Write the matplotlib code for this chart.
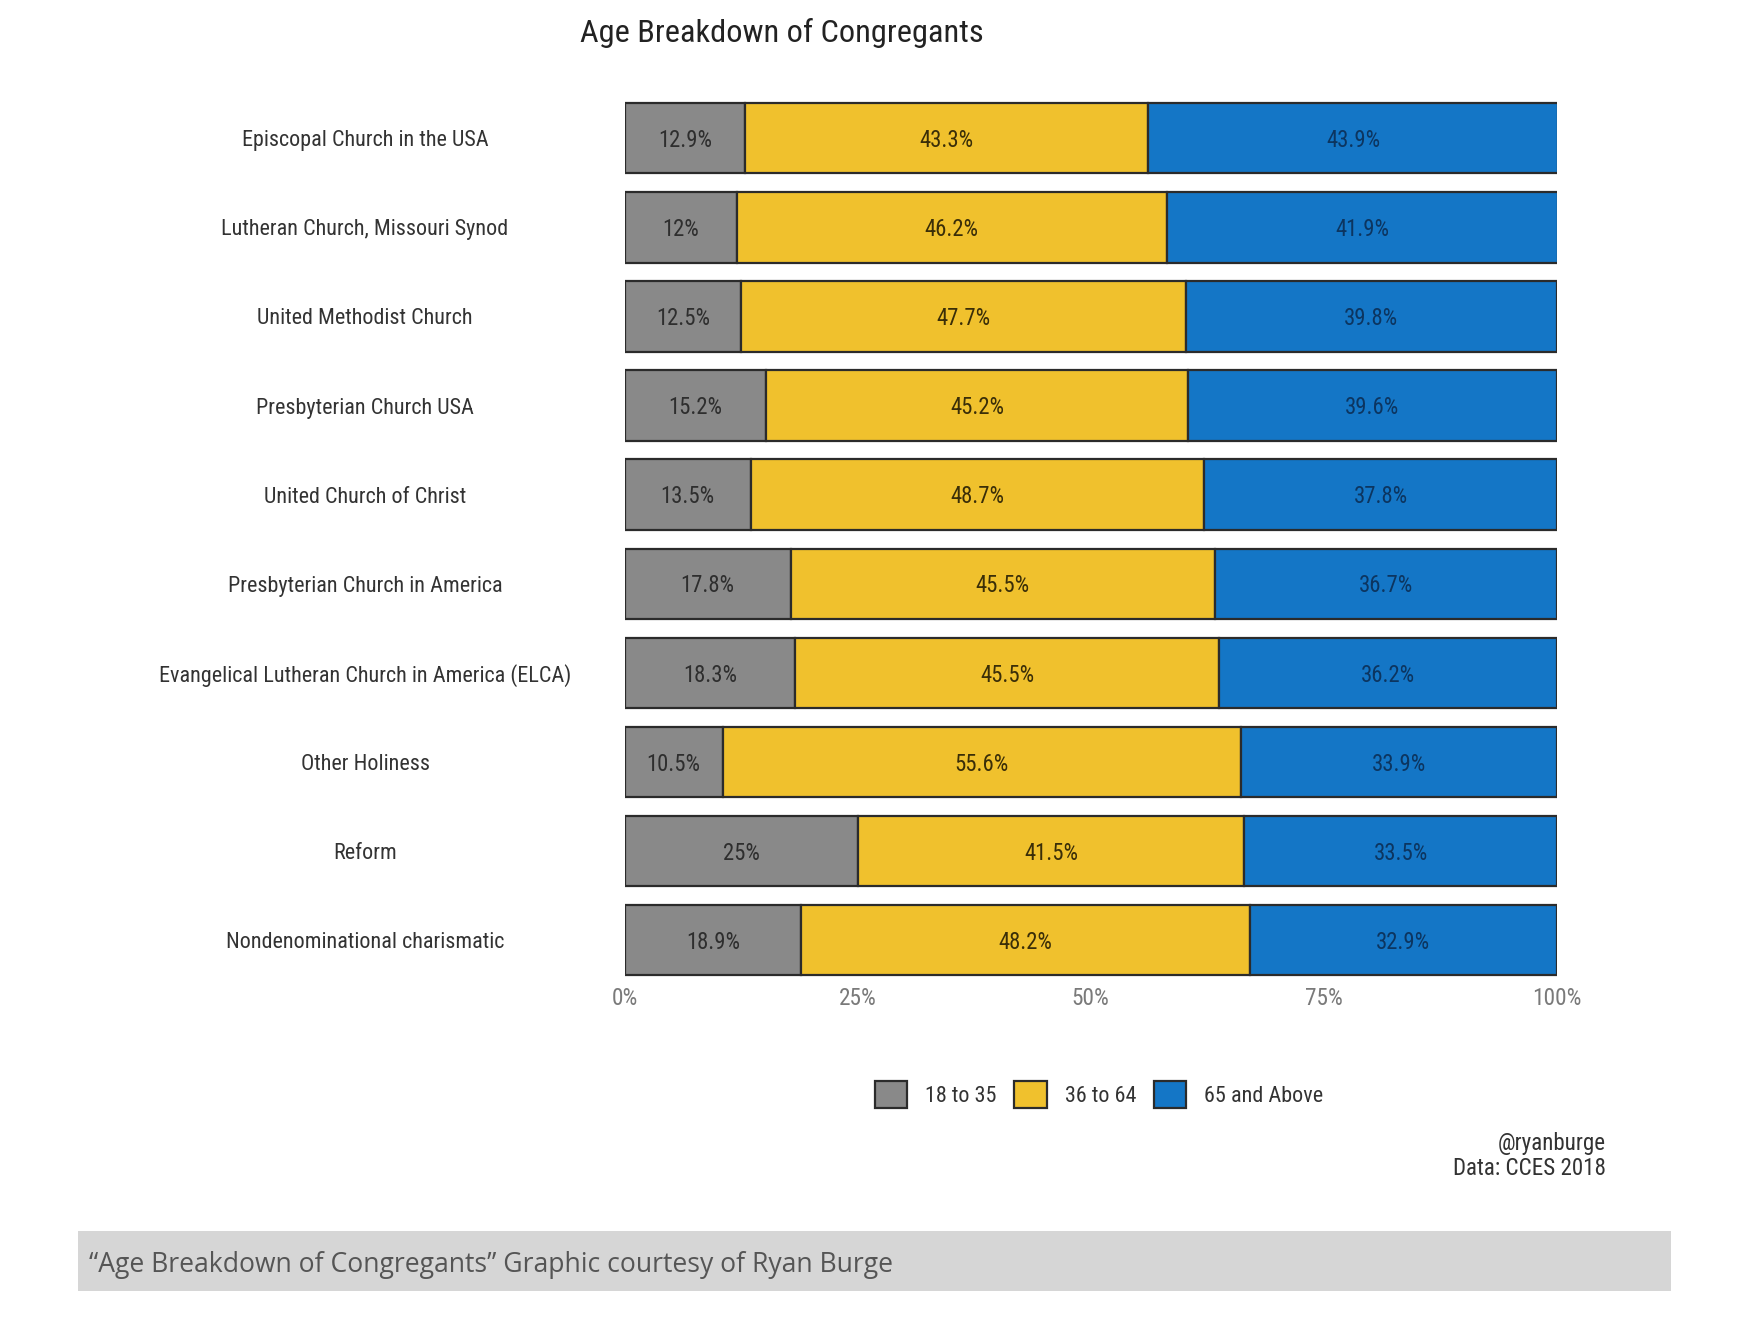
import matplotlib
matplotlib.use('Agg')
import matplotlib.pyplot as plt
from matplotlib import font_manager
from matplotlib.patches import Rectangle, Patch

# the original uses a narrow font; take one if there is any, else Roboto
installed = {f.name for f in font_manager.fontManager.ttflist}
narrow = [n for n in ['Roboto Condensed', 'Liberation Sans Narrow', 'Open Sans Condensed']
          if n in installed]
if narrow:
    FONT = narrow[0]
    K = 1.12
else:
    FONT = 'Roboto'
    K = 1.0
plt.rcParams['font.family'] = [FONT, 'DejaVu Sans']

# data
churches = [
    'Episcopal Church in the USA',
    'Lutheran Church, Missouri Synod',
    'United Methodist Church',
    'Presbyterian Church USA',
    'United Church of Christ',
    'Presbyterian Church in America',
    'Evangelical Lutheran Church in America (ELCA)',
    'Other Holiness',
    'Reform',
    'Nondenominational charismatic',
]
age_18_35 = [12.9, 12.0, 12.5, 15.2, 13.5, 17.8, 18.3, 10.5, 25.0, 18.9]
age_36_64 = [43.3, 46.2, 47.7, 45.2, 48.7, 45.5, 45.5, 55.6, 41.5, 48.2]
age_65_up = [43.9, 41.9, 39.8, 39.6, 37.8, 36.7, 36.2, 33.9, 33.5, 32.9]
series_names = ['18 to 35', '36 to 64', '65 and Above']
tick_vals = [0, 25, 50, 75, 100]
tick_labels = ['0%', '25%', '50%', '75%', '100%']

colors = ['#898989', '#f0c12d', '#1476c6']
text_colors = ['#2e2e2e', '#3a2e08', '#0c3560']

fig = plt.figure(figsize=(17.5, 13.24), dpi=100)
ax = fig.add_axes([0.357, 0.2616, 0.5325, 0.6744])

ypos = list(range(len(churches)))
left = [0.0] * len(churches)
for vals, col, tcol in zip([age_18_35, age_36_64, age_65_up], colors, text_colors):
    ax.barh(ypos, vals, left=left, height=0.79, color=col,
            edgecolor='#2b2b2b', linewidth=1.6)
    for i, v in enumerate(vals):
        txt = ('%g' % v) + '%'
        ax.text(left[i] + v / 2, i + 0.025, txt, ha='center', va='center',
                fontsize=14.6 * K, color=tcol)
    left = [a + b for a, b in zip(left, vals)]

ax.set_xlim(0, 100)
ax.set_ylim(9.42, -0.6)
ax.set_xticks(tick_vals)
ax.set_xticklabels(tick_labels, fontsize=15 * K, color='#7a7a7a')
ax.set_yticks(ypos)
ax.set_yticklabels(churches, fontsize=14.2 * K, color='#333333', ha='center')
ax.tick_params(axis='y', length=0, pad=187)
ax.tick_params(axis='x', length=0, pad=7)
for s in ax.spines.values():
    s.set_visible(False)

fig.text(0.447, 0.975, 'Age Breakdown of Congregants', ha='center', va='center',
         fontsize=20.8 * K, color='#222222')

handles = [Patch(facecolor=c, edgecolor='#2b2b2b', linewidth=1.6) for c in colors]
fig.legend(handles, series_names, loc='center', bbox_to_anchor=(0.628, 0.1735),
           ncol=3, frameon=False, fontsize=14.2 * K, handlelength=1.65 / K,
           handleheight=1.65 / K, handletextpad=0.8, columnspacing=0.8,
           labelcolor='#333333')

fig.text(0.9175, 0.127, '@ryanburge\nData: CCES 2018', ha='right', va='center',
         fontsize=14.8 * K, color='#333333', linespacing=1.1)

# caption band under the chart
fig.patches.append(Rectangle((0.0446, 0.0253), 0.9105, 0.0446, transform=fig.transFigure,
                             facecolor='#d6d6d6', edgecolor='none'))
fig.text(0.051, 0.0447, '\u201cAge Breakdown of Congregants\u201d Graphic courtesy of Ryan Burge',
         ha='left', va='center', fontsize=19.1, color='#555555',
         family=['Open Sans', 'DejaVu Sans'])

fig.savefig('out.png', dpi=100)
